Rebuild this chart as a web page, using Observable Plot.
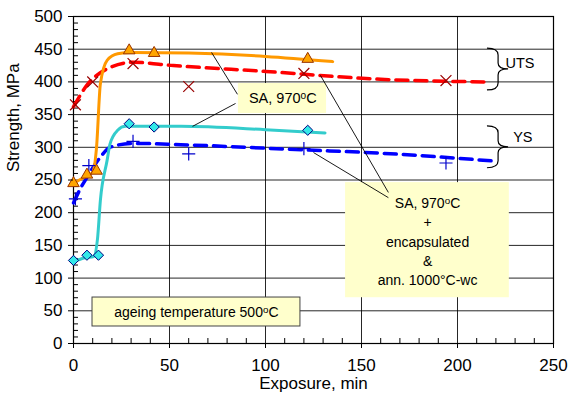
<!DOCTYPE html>
<html>
<head>
<meta charset="utf-8">
<script src="https://cdn.jsdelivr.net/npm/d3@7"></script>
<script src="https://cdn.jsdelivr.net/npm/@observablehq/plot@0.6"></script>
<style>
  html, body { margin: 0; padding: 0; background: #fff; }
  #chart { width: 570px; height: 396px; }
</style>
</head>
<body>
<div id="chart"></div>
<script>
// ---------- data ----------
const xTicks = [0, 50, 100, 150, 200, 250];
const yTicks = [0, 50, 100, 150, 200, 250, 300, 350, 400, 450, 500];

// SA, 970°C  – UTS (orange triangles)
const saUtsX = [0, 7, 12, 29, 42, 122];
const saUtsY = [245, 258, 264, 448, 444, 435];
// SA, 970°C  – YS (cyan diamonds)
const saYsX = [0, 7, 13, 29, 42, 122];
const saYsY = [127, 135, 135, 336, 331, 326];
// SA + encapsulated & ann. – UTS (dark red crosses)
const encUtsX = [1, 10, 31, 60, 120, 194];
const encUtsY = [365, 400, 428, 393, 413, 402];
// SA + encapsulated & ann. – YS (blue plus)
const encYsX = [1, 8, 31, 60, 120, 194];
const encYsY = [221, 272, 309, 290, 298, 276];

// fitted trend curves
const saUtsFitX = [0, 6, 10, 12, 14, 17.5, 23, 30, 60, 100, 135];
const saUtsFitY = [245, 255, 262, 300, 397, 433, 443, 445, 444, 439, 431];
const saYsFitX = [0, 6, 10.5, 12.5, 14, 17.5, 19, 23, 27, 56, 100, 131];
const saYsFitY = [125, 131, 133, 160, 219, 280, 305, 326, 332, 332, 327, 322];
const encUtsFitX = [0, 7, 19, 31, 52, 100, 160, 214];
const encUtsFitY = [362, 395, 422, 430, 425, 416, 404, 400];
const encYsFitX = [0, 3.6, 7, 14, 19, 31, 56, 120, 160, 219];
const encYsFitY = [215, 237, 254, 285, 300, 306, 304, 296, 291, 279];

const toPts = (xs, ys) => xs.map((x, i) => ({x, y: ys[i]}));

const minorX = d3.range(0, 251, 10).filter(v => v % 50 !== 0);
const minorY = d3.range(0, 501, 10).filter(v => v % 50 !== 0);

const diamond2 = d3.symbolDiamond2 || {
  draw(ctx, size) {
    const h = Math.sqrt(size / 2);
    ctx.moveTo(0, -h); ctx.lineTo(h, 0); ctx.lineTo(0, h); ctx.lineTo(-h, 0); ctx.closePath();
  }
};

const fontFamily = "'Liberation Sans', Arial, Helvetica, sans-serif";
const yellow = "#FFFFCC";

const plot = Plot.plot({
  width: 570,
  height: 396,
  marginLeft: 73,
  marginRight: 17,
  marginTop: 16,
  marginBottom: 53,
  style: {fontFamily, background: "#fff", color: "#000"},
  x: {domain: [0, 250]},
  y: {domain: [0, 500]},
  marks: [
    Plot.gridX(xTicks, {stroke: "#000", strokeOpacity: 0.85, strokeWidth: 1}),
    Plot.gridY(yTicks, {stroke: "#000", strokeOpacity: 0.85, strokeWidth: 1}),
    // minor ticks (inside)
    Plot.ruleX(minorX, {x: d => d, y1: 0, y2: 7.6, stroke: "#000", strokeWidth: 1}),
    Plot.ruleY(minorY, {y: d => d, x1: 0, x2: 2.6, stroke: "#000", strokeWidth: 1}),
    // annotation boxes
    Plot.rect([0], {x1: 85.9, x2: 131.8, y1: 351.7, y2: 397.6, fill: yellow}),
    Plot.rect([0], {x1: 141.7, x2: 227, y1: 70, y2: 246, fill: yellow}),
    Plot.rect([0], {x1: 9.9, x2: 118.2, y1: 26, y2: 70.3, fill: yellow, stroke: "#444", strokeWidth: 1}),
    Plot.frame({stroke: "#000", strokeWidth: 1.2}),
    // trend curves
    Plot.line(toPts(encUtsFitX, encUtsFitY), {x: "x", y: "y", stroke: "#FF0000", strokeWidth: 3.5, strokeDasharray: "12,7", curve: "monotone-x"}),
    Plot.line(toPts(encYsFitX, encYsFitY), {x: "x", y: "y", stroke: "#0000FF", strokeWidth: 3.5, strokeDasharray: "12,7", curve: "monotone-x"}),
    Plot.line(toPts(saUtsFitX, saUtsFitY), {x: "x", y: "y", stroke: "#FF9900", strokeWidth: 3, curve: "monotone-x"}),
    Plot.line(toPts(saYsFitX, saYsFitY), {x: "x", y: "y", stroke: "#33CCCC", strokeWidth: 3, curve: "monotone-x"}),
    // leader lines
    Plot.link([0], {x1: 71.9, y1: 445, x2: 85.4, y2: 381, stroke: "#000", strokeWidth: 0.9}),
    Plot.link([0], {x1: 62, y1: 332, x2: 84.4, y2: 367, stroke: "#000", strokeWidth: 0.9}),
    Plot.link([0], {x1: 128.6, y1: 410, x2: 164, y2: 231, stroke: "#000", strokeWidth: 0.9}),
    Plot.link([0], {x1: 125, y1: 292, x2: 164, y2: 223, stroke: "#000", strokeWidth: 0.9}),
    // data points
    Plot.dot(toPts(encUtsX, encUtsY), {x: "x", y: "y", symbol: d3.symbolTimes, r: 5, stroke: "#990000", strokeWidth: 1.2}),
    Plot.dot(toPts(encYsX, encYsY), {x: "x", y: "y", symbol: d3.symbolPlus, r: 4.3, stroke: "#0000CC", strokeWidth: 1.2}),
    Plot.dot(toPts(saUtsX, saUtsY), {x: "x", y: "y", symbol: d3.symbolTriangle, r: 4.3, fill: "#FFA500", stroke: "#993300", strokeWidth: 1}),
    Plot.dot(toPts(saYsX, saYsY), {x: "x", y: "y", symbol: diamond2, r: 4.6, fill: "#33E8E8", stroke: "#000080", strokeWidth: 1}),
    // annotation texts
    Plot.text(["SA, 970ºC"], {x: 109, y: 374.6, fontSize: 14.5, fill: "#000"}),
    Plot.text(["SA, 970ºC\n+\nencapsulated\n&\nann. 1000°C-wc"], {x: 184.4, y: 157.5, fontSize: 14, lineHeight: 1.38, fill: "#000"}),
    Plot.text(["ageing temperature 500ºC"], {x: 64, y: 47.4, fontSize: 14, fill: "#000"}),
    Plot.text(["UTS"], {x: 225, y: 428, fontSize: 14.5, textAnchor: "start", fill: "#000"}),
    Plot.text(["YS"], {x: 229, y: 315, fontSize: 14.5, textAnchor: "start", fill: "#000"}),
    // axes
    Plot.axisX(xTicks, {tickSize: 5, tickPadding: 10, fontSize: 17, label: null, stroke: "#000"}),
    Plot.axisY(yTicks, {tickSize: 5, tickPadding: 6, fontSize: 17, label: null, stroke: "#000"}),
    Plot.text(["Exposure, min"], {frameAnchor: "bottom", dy: 45, fontSize: 17, fill: "#000"}),
    Plot.text(["Strength, MPa"], {frameAnchor: "left", dx: -60, dy: -8, rotate: -90, fontSize: 17, fill: "#000"})
  ]
});

// braces (annotation) drawn through the plot's own scales
const sx = plot.scale("x"), sy = plot.scale("y");
const braces = [
  {x0: 215.6, xm: 221.4, xt: 226.6, yTop: 451, yTip: 419, yBot: 387},
  {x0: 215.6, xm: 221.4, xt: 226.6, yTop: 332, yTip: 300, yBot: 268}
];
const svg = d3.select(plot);
for (const b of braces) {
  const X0 = sx.apply(b.x0), XM = sx.apply(b.xm), XT = sx.apply(b.xt);
  const YT = sy.apply(b.yTop), YI = sy.apply(b.yTip), YB = sy.apply(b.yBot);
  const p = d3.path();
  p.moveTo(X0, YT);
  p.quadraticCurveTo(XM, YT, XM, YT + 7);
  p.lineTo(XM, YI - 6);
  p.quadraticCurveTo(XM, YI, XT, YI);
  p.quadraticCurveTo(XM, YI, XM, YI + 6);
  p.lineTo(XM, YB - 7);
  p.quadraticCurveTo(XM, YB, X0, YB);
  svg.append("path").attr("d", p.toString()).attr("fill", "none").attr("stroke", "#000").attr("stroke-width", 1.2);
}

// superscript "o" for the "ºC" labels
svg.selectAll("text, tspan").each(function() {
  const el = this;
  const nodes = Array.from(el.childNodes).filter(n => n.nodeType === 3 && n.nodeValue.includes("º"));
  for (const n of nodes) {
    const [before, after] = n.nodeValue.split("º");
    const ns = "http://www.w3.org/2000/svg";
    const t1 = document.createTextNode(before);
    const sup = document.createElementNS(ns, "tspan");
    sup.setAttribute("dy", "-0.4em");
    sup.setAttribute("font-size", "70%");
    sup.textContent = "o";
    const rest = document.createElementNS(ns, "tspan");
    rest.setAttribute("dy", "0.28em");
    rest.textContent = after;
    el.insertBefore(t1, n);
    el.insertBefore(sup, n);
    el.insertBefore(rest, n);
    el.removeChild(n);
  }
});

document.getElementById("chart").appendChild(plot);
</script>
</body>
</html>
